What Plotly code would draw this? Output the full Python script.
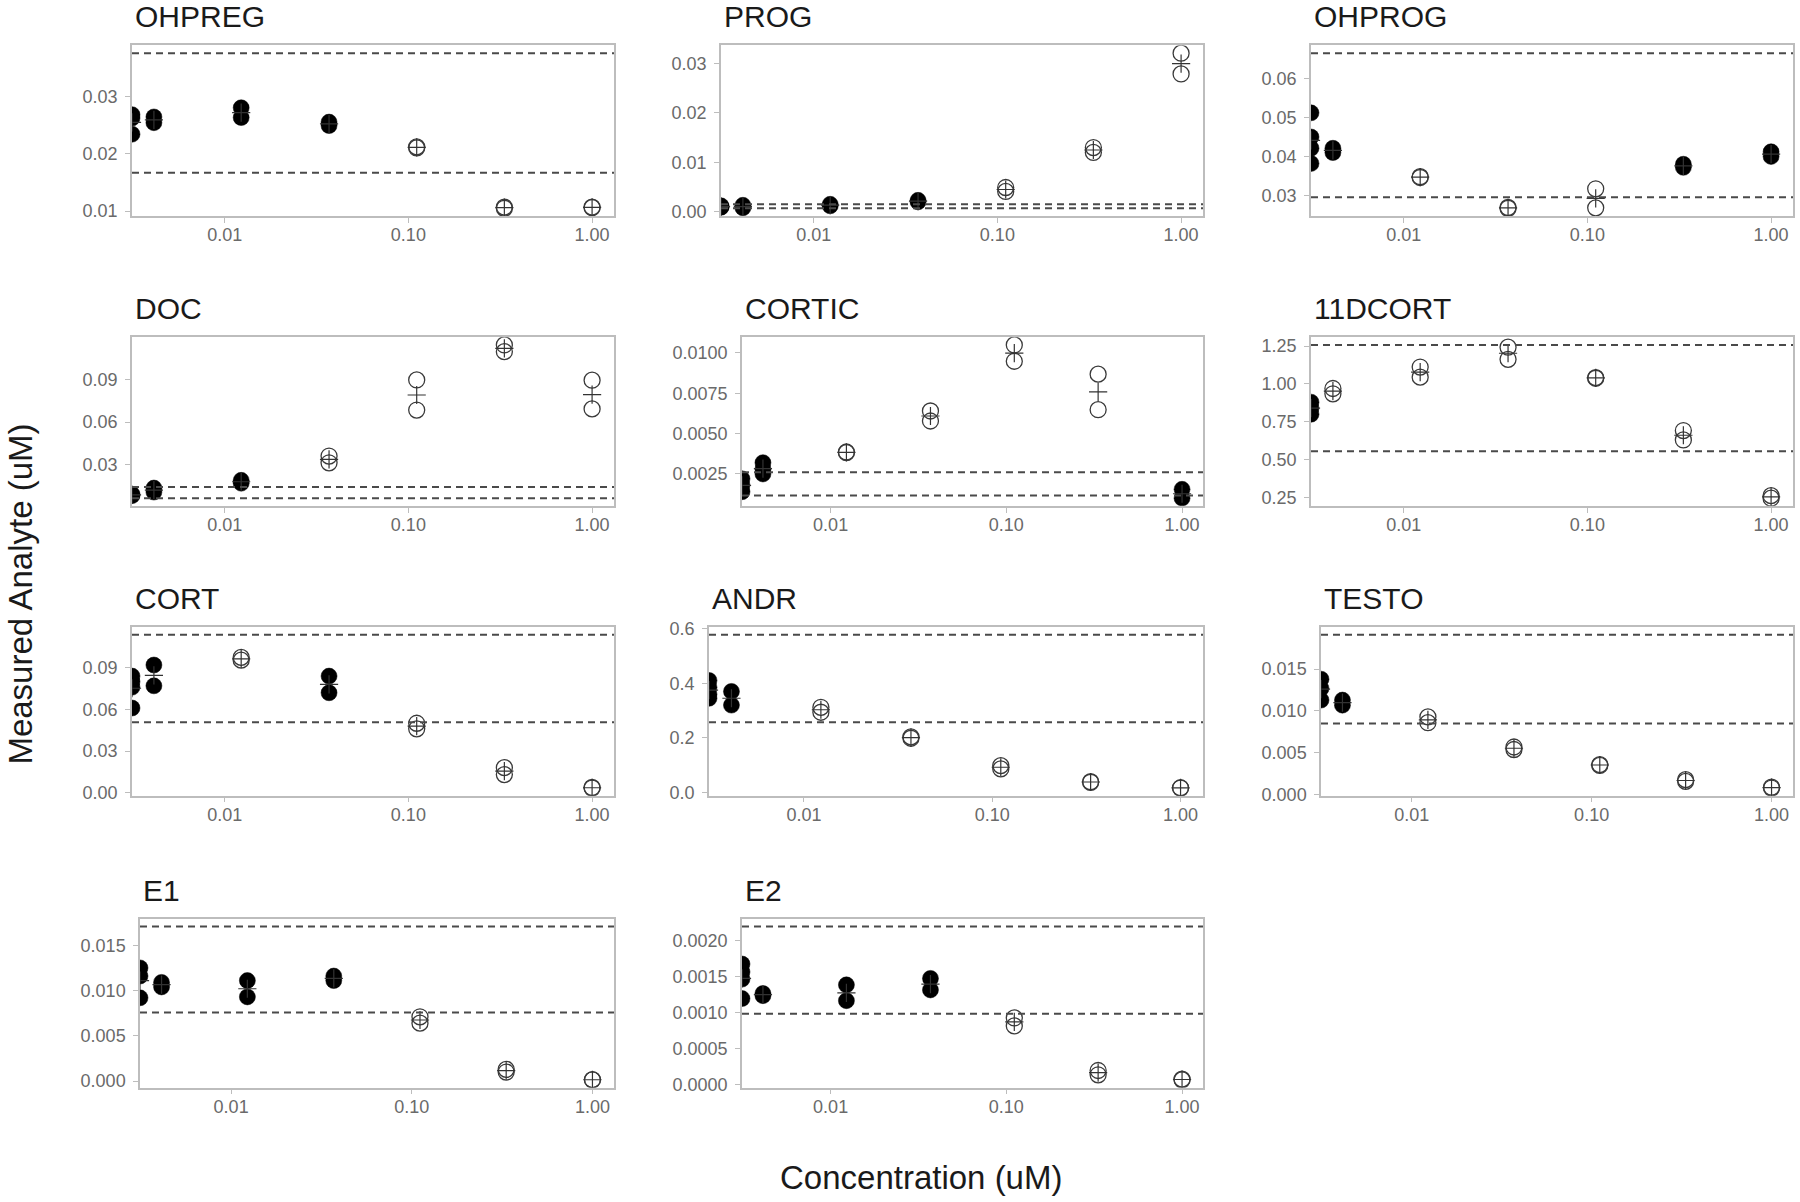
import math
import plotly.graph_objects as go

# ---------------- data ----------------
conc = [0.0, 0.00412, 0.0123, 0.037, 0.111, 0.333, 1.0]   # 0 = control (drawn at -Inf edge)
x_ticks = [0.01, 0.1, 1.0]
x_tick_labels = ["0.01", "0.10", "1.00"]

analytes = ["OHPREG", "PROG", "OHPROG", "DOC", "CORTIC", "11DCORT",
            "CORT", "ANDR", "TESTO", "E1", "E2"]

# replicate values per concentration (same order as conc)
ohpreg_values = [[0.0268, 0.0262, 0.0234], [0.0264, 0.0254], [0.0280, 0.0263], [0.0255, 0.0249],
                 [0.0212, 0.0210], [0.0107, 0.0105], [0.0107, 0.0106]]
prog_values = [[0.0012, 0.0010, 0.0009], [0.0013, 0.0008], [0.0015, 0.0012], [0.0023, 0.0020],
               [0.0049, 0.0041], [0.0130, 0.0120], [0.0321, 0.0279]]
ohprog_values = [[0.0512, 0.0450, 0.0421, 0.0382], [0.0421, 0.0410], [0.0348, 0.0346], [0.0269, 0.0267],
                 [0.0317, 0.0268], [0.0380, 0.0372], [0.0412, 0.0400]]
doc_values = [[0.0095, 0.0085], [0.0138, 0.0110], [0.0192, 0.0172], [0.0362, 0.0315],
              [0.0895, 0.0684], [0.1140, 0.1093], [0.0893, 0.0692]]
cortic_values = [[0.0022, 0.0018, 0.0014], [0.0032, 0.0028, 0.0025], [0.00386, 0.00382], [0.00640, 0.00578],
                 [0.01049, 0.00948], [0.00868, 0.00648], [0.00155, 0.00100]]
dcort11_values = [[0.88, 0.84, 0.80], [0.970, 0.935], [1.112, 1.045], [1.243, 1.163],
                  [1.042, 1.038], [0.692, 0.630], [0.262, 0.245]]
cort_values = [[0.084, 0.080, 0.076, 0.061], [0.092, 0.077], [0.0975, 0.0955], [0.084, 0.072],
               [0.050, 0.046], [0.018, 0.013], [0.0037, 0.0033]]
andr_values = [[0.41, 0.385, 0.36, 0.345], [0.37, 0.32], [0.312, 0.294], [0.204, 0.199],
               [0.099, 0.087], [0.040, 0.038], [0.018, 0.017]]
testo_values = [[0.0138, 0.0127, 0.0113], [0.0113, 0.0107], [0.0093, 0.0086], [0.0057, 0.0054],
                [0.0036, 0.0035], [0.0018, 0.0016], [0.0009, 0.0008]]
e1_values = [[0.0125, 0.0116, 0.0092], [0.0109, 0.0104], [0.0111, 0.0093], [0.0116, 0.0111],
             [0.0071, 0.0064], [0.0013, 0.0010], [0.00016, 0.00014]]
e2_values = [[0.00168, 0.00157, 0.00147, 0.00120], [0.00127, 0.00124], [0.00139, 0.00117], [0.00148, 0.00132],
             [0.00093, 0.00082], [0.00020, 0.00014], [0.00008, 0.00007]]

# 1 = filled (black) group, 0 = open circles
ohpreg_filled = [1, 1, 1, 1, 0, 0, 0]
prog_filled = [1, 1, 1, 1, 0, 0, 0]
ohprog_filled = [1, 1, 0, 0, 0, 1, 1]
doc_filled = [1, 1, 1, 0, 0, 0, 0]
cortic_filled = [1, 1, 0, 0, 0, 0, 1]
dcort11_filled = [1, 0, 0, 0, 0, 0, 0]
cort_filled = [1, 1, 0, 1, 0, 0, 0]
andr_filled = [1, 1, 0, 0, 0, 0, 0]
testo_filled = [1, 1, 0, 0, 0, 0, 0]
e1_filled = [1, 1, 1, 1, 0, 0, 0]
e2_filled = [1, 1, 1, 1, 0, 0, 0]

# dashed reference limits (low, high)
ohpreg_limits = [0.0167, 0.0375]
prog_limits = [0.0007, 0.0015]
ohprog_limits = [0.0295, 0.0665]
doc_limits = [0.0067, 0.0145]
cortic_limits = [0.00116, 0.00260]
dcort11_limits = [0.555, 1.258]
cort_limits = [0.0507, 0.1138]
andr_limits = [0.257, 0.577]
testo_limits = [0.0085, 0.0191]
e1_limits = [0.00758, 0.01706]
e2_limits = [0.00099, 0.00220]

# y tick labels
ohpreg_yticks = ["0.01", "0.02", "0.03"]
prog_yticks = ["0.00", "0.01", "0.02", "0.03"]
ohprog_yticks = ["0.03", "0.04", "0.05", "0.06"]
doc_yticks = ["0.03", "0.06", "0.09"]
cortic_yticks = ["0.0025", "0.0050", "0.0075", "0.0100"]
dcort11_yticks = ["0.25", "0.50", "0.75", "1.00", "1.25"]
cort_yticks = ["0.00", "0.03", "0.06", "0.09"]
andr_yticks = ["0.0", "0.2", "0.4", "0.6"]
testo_yticks = ["0.000", "0.005", "0.010", "0.015"]
e1_yticks = ["0.000", "0.005", "0.010", "0.015"]
e2_yticks = ["0.0000", "0.0005", "0.0010", "0.0015", "0.0020"]

table = {
    "OHPREG": (ohpreg_values, ohpreg_filled, ohpreg_limits, ohpreg_yticks),
    "PROG": (prog_values, prog_filled, prog_limits, prog_yticks),
    "OHPROG": (ohprog_values, ohprog_filled, ohprog_limits, ohprog_yticks),
    "DOC": (doc_values, doc_filled, doc_limits, doc_yticks),
    "CORTIC": (cortic_values, cortic_filled, cortic_limits, cortic_yticks),
    "11DCORT": (dcort11_values, dcort11_filled, dcort11_limits, dcort11_yticks),
    "CORT": (cort_values, cort_filled, cort_limits, cort_yticks),
    "ANDR": (andr_values, andr_filled, andr_limits, andr_yticks),
    "TESTO": (testo_values, testo_filled, testo_limits, testo_yticks),
    "E1": (e1_values, e1_filled, e1_limits, e1_yticks),
    "E2": (e2_values, e2_filled, e2_limits, e2_yticks),
}

# ---------------- layout (pixels) ----------------
W, H = 1800, 1202
panel_left = {"OHPREG": 132, "DOC": 132, "CORT": 132, "E1": 140,
              "PROG": 721, "CORTIC": 742, "ANDR": 709, "E2": 742,
              "OHPROG": 1311, "11DCORT": 1311, "TESTO": 1321}
col_right = [614, 1203, 1793]
row_top = [38, 334, 628, 924]
row_bot = [211, 505, 799, 1095]
TITLE_GAP = 29

FONT = "Liberation Sans, Arial, sans-serif"
BORDER = "#bdbdbd"
TICKTXT = "#6a6a6a"

# shared log x range (ggplot 5% expansion of positive concentrations)
pos = [c for c in conc if c > 0]
lo, hi = math.log10(min(pos)), math.log10(max(pos))
pad = 0.05 * (hi - lo)
x_range = [lo - pad, hi + pad]
x_edge = 10 ** x_range[0]   # where -Inf (control) is drawn

fig = go.Figure()
shapes, annotations = [], []
layout = {}

for i, name in enumerate(analytes):
    values, filled, limits, ytl = table[name]
    r, c = divmod(i, 3)
    k = "" if i == 0 else str(i + 1)
    xa, ya = "x" + k, "y" + k

    xs = [x_edge if cc == 0 else cc for cc in conc]
    fx, fy, ox, oy, mx, my = [], [], [], [], [], []
    for xv, reps, f in zip(xs, values, filled):
        for v in reps:
            if f:
                fx.append(xv); fy.append(v)
            else:
                ox.append(xv); oy.append(v)
        mx.append(xv); my.append(sum(reps) / len(reps))

    fig.add_trace(go.Scatter(x=ox, y=oy, mode="markers", xaxis=xa, yaxis=ya, showlegend=False,
                             marker=dict(symbol="circle-open", size=16, color="#3a3a3a",
                                         line=dict(width=1.3, color="#3a3a3a"))))
    fig.add_trace(go.Scatter(x=fx, y=fy, mode="markers", xaxis=xa, yaxis=ya, showlegend=False,
                             marker=dict(symbol="circle", size=16, color="black",
                                         line=dict(width=0.5, color="black"))))
    fig.add_trace(go.Scatter(x=mx, y=my, mode="markers", xaxis=xa, yaxis=ya, showlegend=False,
                             marker=dict(symbol="cross-thin", size=13, color="#333333",
                                         line=dict(width=1.2, color="#333333"))))

    allv = [v for reps in values for v in reps] + list(limits)
    ymin, ymax = min(allv), max(allv)
    ypad = 0.05 * (ymax - ymin)
    yvals = [float(t) for t in ytl]

    left = panel_left[name]
    right = col_right[c]
    top, bot = row_top[r], row_bot[r]

    layout["xaxis" + k] = dict(
        type="log", range=x_range, domain=[left / W, right / W], anchor=ya,
        tickvals=x_ticks, ticktext=x_tick_labels, ticks="outside", ticklen=5,
        tickwidth=1.2, tickcolor=BORDER, showline=True, mirror=True, linecolor=BORDER,
        linewidth=1.5, showgrid=False, zeroline=False, ticklabelstandoff=-3,
        tickfont=dict(family=FONT, size=18, color=TICKTXT))
    layout["yaxis" + k] = dict(
        range=[ymin - ypad, ymax + ypad], domain=[1 - bot / H, 1 - top / H], anchor=xa,
        tickvals=yvals, ticktext=ytl, ticks="outside", ticklen=5, tickwidth=1.2,
        tickcolor=BORDER, showline=True, mirror=True, linecolor=BORDER, linewidth=1.5,
        showgrid=False, zeroline=False, ticklabelstandoff=4,
        tickfont=dict(family=FONT, size=18, color=TICKTXT))

    for lim in limits:
        shapes.append(dict(type="line", xref=xa + " domain", x0=0, x1=1, yref=ya, y0=lim, y1=lim,
                           line=dict(color="#4a4a4a", width=2, dash="7px,5px"), layer="above"))

    annotations.append(dict(text=name, xref="paper", yref="paper", x=(left + 1) / W,
                            y=1 - (top - TITLE_GAP) / H, xanchor="left", yanchor="middle",
                            showarrow=False, font=dict(family=FONT, size=30, color="#1a1a1a")))

annotations.append(dict(text="Concentration (uM)", xref="paper", yref="paper", x=921 / W,
                        y=1 - 1186 / H, xanchor="center", yanchor="middle", showarrow=False,
                        font=dict(family=FONT, size=33, color="#1a1a1a")))
annotations.append(dict(text="Measured Analyte (uM)", xref="paper", yref="paper", x=21 / W,
                        y=1 - 595 / H, xanchor="center", yanchor="middle", showarrow=False,
                        textangle=-90, font=dict(family=FONT, size=33, color="#1a1a1a")))

fig.update_layout(width=W, height=H, margin=dict(l=0, r=0, t=0, b=0),
                  paper_bgcolor="white", plot_bgcolor="white", hovermode=False,
                  shapes=shapes, annotations=annotations, **layout)

fig.write_html("out.html", config={"displayModeBar": False},
               post_script="document.body.style.margin='0px';document.body.style.overflow='hidden';")
